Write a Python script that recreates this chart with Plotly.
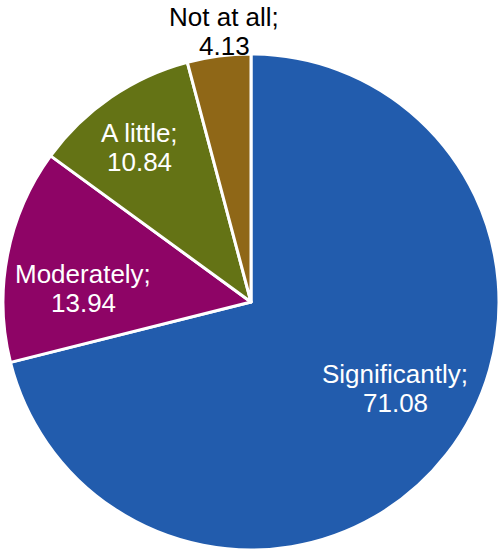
import plotly.graph_objects as go

# Share of respondents by response category
categories = ["Significantly", "Moderately", "A little", "Not at all"]
values = [71.08, 13.94, 10.84, 4.13]
slice_colors = ["#225CAD", "#8E0466", "#647315", "#8F6717"]
label_colors = ["white", "white", "white", "black"]

# Label centres in pixels (x from left, y of first line from top) on a 501x552 canvas
W, H = 501, 552
label_px = [(395, 374), (83, 274), (139, 133), (224, 17)]
LINE_GAP = 29  # pixels between the category line and the value line

fig = go.Figure(
    go.Pie(
        labels=categories,
        values=values,
        sort=False,
        direction="clockwise",
        rotation=0,
        marker=dict(colors=slice_colors, line=dict(color="white", width=3)),
        textinfo="none",
        hoverinfo="label+value",
        showlegend=False,
        domain=dict(x=[3 / W, 499 / W], y=[2 / H, 498 / H]),
    )
)

for cat, val, col, (px, py) in zip(categories, values, label_colors, label_px):
    for text, y_px in ((f"{cat};", py), (f"{val:.2f}", py + LINE_GAP)):
        fig.add_annotation(
            x=px / W,
            y=1 - y_px / H,
            xref="paper",
            yref="paper",
            xanchor="center",
            yanchor="middle",
            text=text,
            showarrow=False,
            font=dict(family="Liberation Sans, Arial, sans-serif", size=26, color=col),
        )

fig.update_layout(
    width=W,
    height=H,
    margin=dict(l=0, r=0, t=0, b=0, autoexpand=False),
    paper_bgcolor="white",
    plot_bgcolor="white",
)

fig.write_html("out.html")
